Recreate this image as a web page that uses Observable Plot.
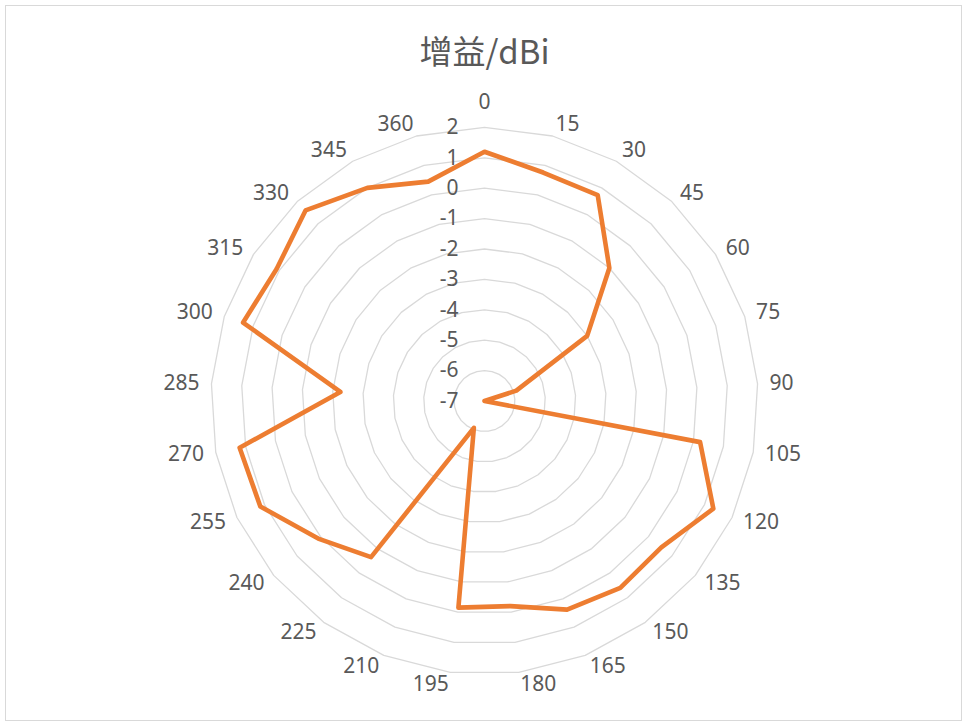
<!DOCTYPE html>
<html><head><meta charset="utf-8">
<script src="https://cdn.jsdelivr.net/npm/d3@7"></script>
<script src="https://cdn.jsdelivr.net/npm/@observablehq/plot@0.6"></script>
<style>
body{margin:0;background:#fff;}
#chart{position:relative;width:963px;height:722px;overflow:hidden;background:#fff;}
#frame{position:absolute;left:5px;top:5px;width:957px;height:716px;border:1.5px solid #d9d9d9;box-sizing:border-box;pointer-events:none;}
#title{position:absolute;left:0;width:969px;top:27px;text-align:center;font-family:"Noto Sans CJK SC","Noto Sans",sans-serif;font-size:33px;color:#595959;line-height:46px;}
#chart svg{position:absolute;left:0;top:0;}
</style></head>
<body>
<div id="chart"><div id="frame"></div><div id="title">增益/dBi</div></div>
<script>
// Category labels (degrees), one per spoke
const angleLabels = ["0","15","30","45","60","75","90","105","120","135","150","165","180","195","210","225","240","255","270","285","300","315","330","345","360"];
// Gain in dBi for each category
const gain = [1.2, 0.76, 0.73, -1.0, -3.0, -5.9, -7.0, 0.22, 1.32, 0.55, 0.6, 0.38, -0.2, -0.15, -6.05, -0.65, 0.1, 1.15, 1.2, -2.25, 1.35, 1.1, 1.6, 1.0, 0.45];
// Radial axis tick values
const radialTicks = [2, 1, 0, -1, -2, -3, -4, -5, -6, -7];
const rMin = -7, rMax = 2;

const W = 963, H = 722;
const cx = 484, cy = 400.5, R = 273.6;
const span = rMax - rMin;
const pxPerUnit = R / span;
const n = angleLabels.length;
const theta = i => (i * 2 * Math.PI) / n;

const series = gain.map((v, i) => ({i, v, r: v - rMin}));
const rings = radialTicks.filter(t => t > rMin).flatMap(t =>
  d3.range(n).map(i => ({level: t, i, r: t - rMin})));
const cats = angleLabels.map((label, i) => ({label, i}));
const labelR = span + 12 / pxPerUnit;
const topR = span + 25 / pxPerUnit;

const X = d => d.r * Math.sin(theta(d.i));
const Y = d => d.r * Math.cos(theta(d.i));
const txt = {fontSize: 21, fill: "#595959"};

const plot = Plot.plot({
  width: W, height: H,
  marginLeft: cx - R, marginRight: W - (cx + R),
  marginTop: cy - R, marginBottom: H - (cy + R),
  x: {domain: [-span, span], axis: null},
  y: {domain: [-span, span], axis: null},
  style: {background: "transparent", fontFamily: "'Noto Sans', sans-serif", overflow: "visible"},
  marks: [
    Plot.line(rings, {x: X, y: Y, z: "level", curve: "linear-closed", stroke: "#d9d9d9", strokeWidth: 1.3}),
    Plot.line(series, {x: X, y: Y, curve: "linear-closed", stroke: "#ed7d31", strokeWidth: 4.6, strokeLinejoin: "round"}),
    Plot.text(cats.filter(d => d.i > 0 && d.i <= 12), {
      x: d => labelR * Math.sin(theta(d.i)), y: d => labelR * Math.cos(theta(d.i)),
      text: "label", textAnchor: "start", ...txt}),
    Plot.text(cats.filter(d => d.i > 12), {
      x: d => labelR * Math.sin(theta(d.i)), y: d => labelR * Math.cos(theta(d.i)),
      text: "label", textAnchor: "end", ...txt}),
    Plot.text(cats.filter(d => d.i === 0), {
      x: d => topR * Math.sin(theta(d.i)), y: d => topR * Math.cos(theta(d.i)),
      text: "label", textAnchor: "middle", ...txt}),
    Plot.text(radialTicks, {x: () => 0, y: d => d - rMin, text: d => String(d), textAnchor: "end", dx: -26, ...txt})
  ]
});
document.getElementById("chart").appendChild(plot);
</script>
</body></html>
